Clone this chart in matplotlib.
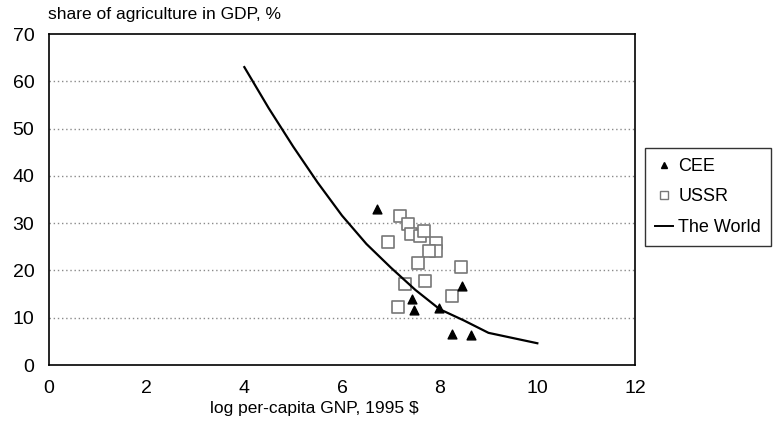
import matplotlib
matplotlib.use("Agg")
import matplotlib.pyplot as plt
from matplotlib.lines import Line2D

plt.rcParams['font.family'] = ['Liberation Sans', 'DejaVu Sans']

# Central and Eastern Europe
cee_x = [6.71, 7.43, 7.47, 7.99, 8.46, 8.26, 8.65]
cee_y = [32.9, 13.9, 11.6, 12.0, 16.8, 6.6, 6.4]

# Former Soviet Union
ussr_x = [7.19, 7.36, 7.41, 7.60, 7.68, 6.95, 7.93, 7.93, 7.78, 7.56, 8.44, 7.30, 7.69, 8.25, 7.15]
ussr_y = [31.6, 29.8, 27.7, 27.3, 28.3, 26.1, 25.7, 24.2, 24.1, 21.5, 20.7, 17.1, 17.8, 14.6, 12.3]

# World regression curve
world_x = [4.0, 4.5, 5.0, 5.5, 6.0, 6.5, 7.0, 7.5, 8.0, 8.5, 9.0, 9.5, 10.0]
world_y = [63.0, 54.3, 46.2, 38.6, 31.6, 25.6, 20.6, 15.9, 11.8, 9.4, 6.8, 5.7, 4.6]

x_ticks = [0, 2, 4, 6, 8, 10, 12]
y_ticks = [0, 10, 20, 30, 40, 50, 60, 70]

fig = plt.figure(figsize=(7.73, 4.30), dpi=100)
ax = fig.add_axes([49 / 773, 65 / 430, 586 / 773, 331 / 430])

for yv in y_ticks[1:-1]:
    ax.axhline(yv, color='#8a8a8a', linestyle=(0, (1, 2)), linewidth=1.0, zorder=1)

ax.plot(world_x, world_y, color='black', linewidth=1.6, zorder=3, label='The World')
ax.scatter(cee_x, cee_y, marker='^', s=40, color='black', zorder=4, label='CEE')
ax.scatter(ussr_x, ussr_y, marker='s', s=70, facecolor='white', edgecolor='#777777',
           linewidth=1.2, zorder=2, label='USSR')

ax.set_xlim(0, 12)
ax.set_ylim(0, 70)
ax.set_xticks(x_ticks)
ax.set_yticks(y_ticks)
ax.tick_params(length=0, labelsize=14, pad=10.5)
for s in ax.spines.values():
    s.set_color('black')
    s.set_linewidth(1.2)

fig.text(48 / 773, 1 - 15 / 430, 'share of agriculture in GDP, %', fontsize=12.5,
         ha='left', va='center')
fig.text(314 / 773, 1 - 409 / 430, 'log per-capita GNP, 1995 $', fontsize=12.5,
         ha='center', va='center')

handles = [
    Line2D([], [], marker='^', color='black', linestyle='none', markersize=5),
    Line2D([], [], marker='s', markerfacecolor='white', markeredgecolor='#777777',
           linestyle='none', markersize=6),
    Line2D([], [], color='black', linewidth=1.4),
]
leg = fig.legend(handles, ['CEE', 'USSR', 'The World'], loc='upper left',
                 bbox_to_anchor=(645 / 773, 1 - 148 / 430), fontsize=13,
                 frameon=True, fancybox=False, edgecolor='black', handlelength=1.0,
                 handletextpad=0.3, borderpad=0.55, labelspacing=0.75, borderaxespad=0)
leg.get_frame().set_linewidth(1.0)

fig.savefig('out.png', dpi=100)
